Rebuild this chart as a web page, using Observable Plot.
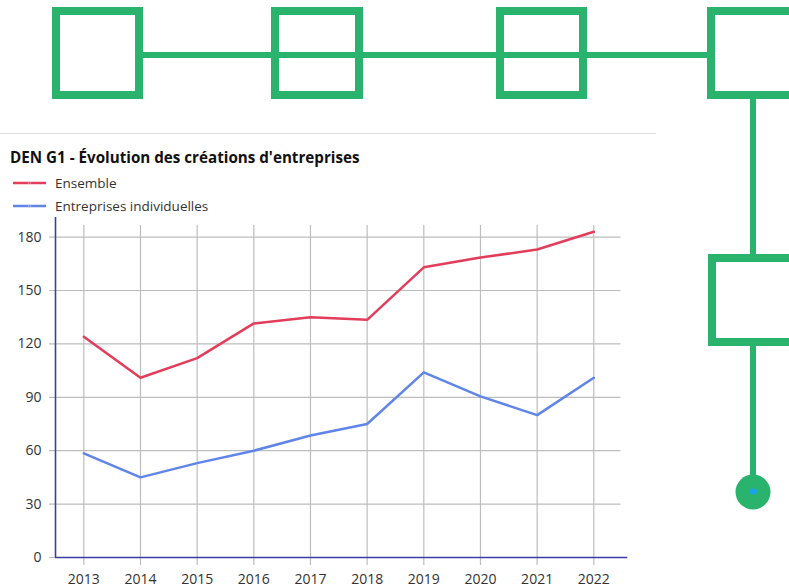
<!DOCTYPE html>
<html>
<head>
<meta charset="utf-8">
<script src="https://cdn.jsdelivr.net/npm/d3@7"></script>
<script src="https://cdn.jsdelivr.net/npm/@observablehq/plot@0.6"></script>
<style>
  html, body { margin: 0; padding: 0; background: #fff; width: 789px; height: 588px; overflow: hidden; font-family: "Open Sans", "Noto Sans", sans-serif; }
  #deco { position: absolute; left: 0; top: 0; }
  #divider { position: absolute; left: 0; top: 133px; width: 656px; height: 1px; background: #e0e0e0; }
  #title { position: absolute; left: 10px; top: 147px; font-size: 15.2px; font-weight: 700; color: #111; white-space: nowrap; }
  .leg { position: absolute; left: 13px; font-size: 13.5px; color: #333; display: flex; align-items: center; white-space: nowrap; }
  .leg svg { margin-right: 9px; }
  #chart { position: absolute; left: 0; top: 210px; }
</style>
</head>
<body>
<svg id="deco" width="789" height="588">
  <g fill="none" stroke="#2ab36d">
    <line x1="143" y1="55" x2="711" y2="55" stroke-width="6"/>
    <line x1="753" y1="99" x2="753" y2="258" stroke-width="6"/>
    <line x1="753" y1="346" x2="753" y2="480" stroke-width="6"/>
    <rect x="56" y="11" width="83" height="84" stroke-width="8"/>
    <rect x="275" y="11" width="84" height="84" stroke-width="8"/>
    <rect x="500" y="11" width="83" height="84" stroke-width="8"/>
    <rect x="711" y="11" width="100" height="84" stroke-width="8"/>
    <rect x="712" y="258" width="100" height="84" stroke-width="8"/>
  </g>
  <circle cx="753" cy="492" r="17.5" fill="#2ab36d"/>
  <ellipse cx="753" cy="491.5" rx="4" ry="3" fill="#1aa3e8"/>
</svg>
<div id="divider"></div>
<div id="title">DEN G1 - Évolution des créations d'entreprises</div>
<div id="legend"></div>
<div id="chart"></div>
<script>
const years = [2013, 2014, 2015, 2016, 2017, 2018, 2019, 2020, 2021, 2022];
const ensemble = [124, 101, 112, 131.5, 135, 133.5, 163, 168.5, 173, 183];
const individuelles = [58.5, 45, 53, 60, 68.5, 75, 104, 90.5, 80, 101];
const seriesNames = ["Ensemble", "Entreprises individuelles"];
const seriesColors = ["#e23d5b", "#5f85e8"];
const yTicks = [0, 30, 60, 90, 120, 150, 180];

const data = [];
years.forEach((yr, i) => {
  data.push({year: yr, value: ensemble[i], series: seriesNames[0]});
  data.push({year: yr, value: individuelles[i], series: seriesNames[1]});
});

// legend
const legend = document.getElementById("legend");
seriesNames.forEach((name, i) => {
  const d = document.createElement("div");
  d.className = "leg";
  d.style.top = (174 + i * 23) + "px";
  d.innerHTML = `<svg width="33" height="6"><line x1="0" y1="3" x2="33" y2="3" stroke="${seriesColors[i]}" stroke-width="2.5"/><circle cx="16.5" cy="3" r="1.3" fill="${seriesColors[i]}" stroke="#fff" stroke-width="0.3"/></svg>${name}`;
  legend.appendChild(d);
});

const axisColor = "#3c3ca6";
const chart = Plot.plot({
  width: 660,
  height: 378,
  marginLeft: 55,
  marginRight: 32.7,
  marginTop: 7,
  marginBottom: 31,
  style: {fontFamily: "'Open Sans', 'Noto Sans', sans-serif", fontSize: "14px", color: "#333", background: "transparent"},
  x: {domain: [2012.5, 2022.6], axis: null},
  y: {domain: [0, 191], axis: null},
  color: {domain: seriesNames, range: seriesColors},
  marks: [
    Plot.ruleY(yTicks, {x1: 2012.394, x2: 2022.48, stroke: "#bdbdbd", strokeWidth: 1.2}),
    Plot.ruleX(years, {y1: -4.5, y2: 186.5, stroke: "#bdbdbd", strokeWidth: 1.2}),
    Plot.axisY(yTicks, {tickSize: 0, tickPadding: 14, fontSize: 14, fill: "#333", anchor: "left", label: null}),
    Plot.axisX(years, {tickSize: 0, tickPadding: 17, fontSize: 14, fill: "#333", tickFormat: d => String(d), anchor: "bottom", label: null}),
    Plot.ruleX([2012.5], {y1: 0, y2: 191, stroke: axisColor, strokeWidth: 1.6}),
    Plot.ruleY([0], {x1: 2012.5, x2: 2022.6, stroke: axisColor, strokeWidth: 1.6}),
    Plot.line(data, {x: "year", y: "value", z: "series", stroke: "series", strokeWidth: 2.5, curve: "linear"})
  ]
});
document.getElementById("chart").appendChild(chart);
</script>
</body>
</html>
